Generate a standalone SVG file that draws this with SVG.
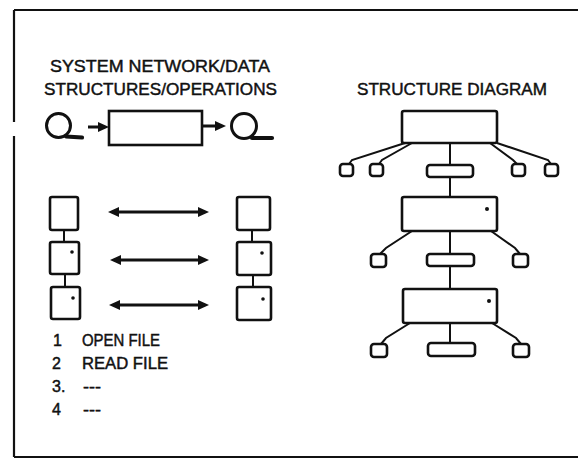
<svg xmlns="http://www.w3.org/2000/svg" width="578" height="461" viewBox="0 0 578 461">
  <style>
    .frame { fill: none; stroke: #111; stroke-width: 2.2; }
    .box { fill: #fff; stroke: #111; stroke-width: 2.6; }
    .leaf { fill: #fff; stroke: #111; stroke-width: 2.6; }
    .wire { fill: none; stroke: #111; stroke-width: 2; }
    .arrow { fill: none; stroke: #111; stroke-width: 3; }
    .head { fill: #111; }
    .dot { fill: #111; }
    .title { font-family: "Liberation Sans", Arial, sans-serif; font-size: 17px; fill: #111; stroke: #111; stroke-width: 0.45; }
    .item { font-family: "Liberation Sans", Arial, sans-serif; font-size: 16px; fill: #111; stroke: #111; stroke-width: 0.45; }
  </style>

  <!-- outer frame: top, bottom, and left edge with a small break -->
  <g id="frame">
    <line class="frame" x1="14" y1="10" x2="578" y2="10"/>
    <line class="frame" x1="14" y1="457" x2="578" y2="457"/>
    <line class="frame" x1="14" y1="10" x2="14" y2="122"/>
    <line class="frame" x1="14" y1="136" x2="14" y2="457"/>
  </g>

  <!-- headings -->
  <g id="headings">
    <text class="title" x="50" y="72" textLength="220" lengthAdjust="spacingAndGlyphs">SYSTEM NETWORK/DATA</text>
    <text class="title" x="44" y="95" textLength="233" lengthAdjust="spacingAndGlyphs">STRUCTURES/OPERATIONS</text>
    <text class="title" x="357" y="95" textLength="190" lengthAdjust="spacingAndGlyphs">STRUCTURE DIAGRAM</text>
  </g>

  <!-- system network: store -> process -> store -->
  <g id="store-in">
    <circle cx="58.5" cy="125.5" r="12" fill="none" stroke="#111" stroke-width="3"/>
    <line x1="66" y1="136.5" x2="82" y2="137.5" stroke="#111" stroke-width="4.2" stroke-linecap="round"/>
  </g>
  <g id="process">
    <rect class="box" x="109" y="111" width="93" height="34"/>
  </g>
  <g id="store-out">
    <circle cx="244" cy="126" r="12.5" fill="none" stroke="#111" stroke-width="3"/>
    <line x1="252" y1="138" x2="272" y2="138" stroke="#111" stroke-width="4.2" stroke-linecap="round"/>
  </g>

  <!-- data structure columns -->
  <g id="left-a"><rect class="box" x="50" y="197" width="28" height="33" rx="2"/></g>
  <g id="left-b"><rect class="box" x="50" y="242" width="29" height="32" rx="2"/><circle class="dot" cx="72" cy="252" r="1.8"/></g>
  <g id="left-c"><rect class="box" x="51" y="287" width="29" height="32" rx="2"/><circle class="dot" cx="73" cy="298" r="1.8"/></g>

  <g id="right-a"><rect class="box" x="237" y="197" width="33" height="33" rx="2"/></g>
  <g id="right-b"><rect class="box" x="237" y="242" width="34" height="33" rx="2"/><circle class="dot" cx="262" cy="253" r="1.8"/></g>
  <g id="right-c"><rect class="box" x="237" y="287" width="34" height="33" rx="2"/><circle class="dot" cx="263" cy="299" r="1.8"/></g>

  <!-- structure diagram nodes -->
  <g id="sd-top"><rect class="box" x="402" y="111" width="95" height="32" rx="2"/></g>
  <g id="sd-leaf1"><rect class="leaf" x="340" y="164" width="13" height="12" rx="3"/></g>
  <g id="sd-leaf2"><rect class="leaf" x="370" y="164" width="13" height="12" rx="3"/></g>
  <g id="sd-mid1"><rect class="leaf" x="427" y="165" width="46" height="12" rx="3"/></g>
  <g id="sd-leaf3"><rect class="leaf" x="512" y="164" width="13" height="12" rx="3"/></g>
  <g id="sd-leaf4"><rect class="leaf" x="545" y="164" width="13" height="12" rx="3"/></g>

  <g id="sd-second"><rect class="box" x="402" y="197" width="95" height="34" rx="2"/><circle class="dot" cx="487" cy="209" r="2"/></g>
  <g id="sd-leaf5"><rect class="leaf" x="371" y="254" width="15" height="13" rx="3"/></g>
  <g id="sd-mid2"><rect class="leaf" x="427" y="254" width="47" height="12" rx="3"/></g>
  <g id="sd-leaf6"><rect class="leaf" x="513" y="254" width="15" height="13" rx="3"/></g>

  <g id="sd-third"><rect class="box" x="403" y="289" width="94" height="34" rx="2"/><circle class="dot" cx="489" cy="301" r="2"/></g>
  <g id="sd-leaf7"><rect class="leaf" x="371" y="344" width="16" height="13" rx="3"/></g>
  <g id="sd-mid3"><rect class="leaf" x="428" y="343" width="47" height="13" rx="3"/></g>
  <g id="sd-leaf8"><rect class="leaf" x="513" y="344" width="16" height="13" rx="3"/></g>

  <!-- operation list -->
  <g id="operations">
    <text class="item" x="53" y="346">1</text>
    <text class="item" x="82" y="346" textLength="78" lengthAdjust="spacingAndGlyphs">OPEN FILE</text>
    <text class="item" x="52" y="369">2</text>
    <text class="item" x="82" y="369" textLength="86" lengthAdjust="spacingAndGlyphs">READ FILE</text>
    <text class="item" x="52" y="392">3.</text>
    <text class="item" x="83" y="392" textLength="18" lengthAdjust="spacingAndGlyphs">---</text>
    <text class="item" x="52" y="415">4</text>
    <text class="item" x="83" y="415" textLength="18" lengthAdjust="spacingAndGlyphs">---</text>
  </g>

  <!-- connectors -->
  <g id="connectors">
    <!-- network flow -->
    <line class="arrow" x1="88" y1="127" x2="100" y2="127"/>
    <polygon class="head" points="98,122 109,127 98,132"/>
    <line class="arrow" x1="202" y1="126" x2="216" y2="126"/>
    <polygon class="head" points="215,121 226,126 215,131"/>

    <!-- column links -->
    <line class="wire" x1="64" y1="230" x2="64" y2="242"/>
    <line class="wire" x1="65" y1="274" x2="65" y2="287"/>
    <line class="wire" x1="252" y1="230" x2="252" y2="242"/>
    <line class="wire" x1="253" y1="275" x2="253" y2="287"/>

    <!-- correspondence arrows -->
    <line class="arrow" x1="116" y1="212" x2="201" y2="212"/>
    <polygon class="head" points="108,212 119,207 119,217"/>
    <polygon class="head" points="209,212 198,207 198,217"/>
    <line class="arrow" x1="118" y1="260" x2="201" y2="260"/>
    <polygon class="head" points="110,260 121,255 121,265"/>
    <polygon class="head" points="209,260 198,255 198,265"/>
    <line class="arrow" x1="117" y1="305" x2="201" y2="305"/>
    <polygon class="head" points="109,305 120,300 120,310"/>
    <polygon class="head" points="209,305 198,300 198,310"/>

    <!-- structure diagram trunk -->
    <line class="wire" x1="450" y1="143" x2="450" y2="165"/>
    <line class="wire" x1="450" y1="177" x2="450" y2="197"/>
    <line class="wire" x1="450" y1="231" x2="450" y2="254"/>
    <line class="wire" x1="450" y1="266" x2="450" y2="289"/>
    <line class="wire" x1="450" y1="323" x2="450" y2="343"/>

    <!-- branches from top box -->
    <polyline class="wire" points="405,143 352,160 349,164"/>
    <polyline class="wire" points="412,143 382,160 379,164"/>
    <polyline class="wire" points="490,143 513,160 517,164"/>
    <polyline class="wire" points="497,143 548,160 551,164"/>

    <!-- branches from second box -->
    <polyline class="wire" points="412,231 386,248 380,254"/>
    <polyline class="wire" points="491,231 515,248 520,254"/>

    <!-- branches from third box -->
    <polyline class="wire" points="410,323 386,338 381,344"/>
    <polyline class="wire" points="492,323 516,338 521,344"/>
  </g>
</svg>
